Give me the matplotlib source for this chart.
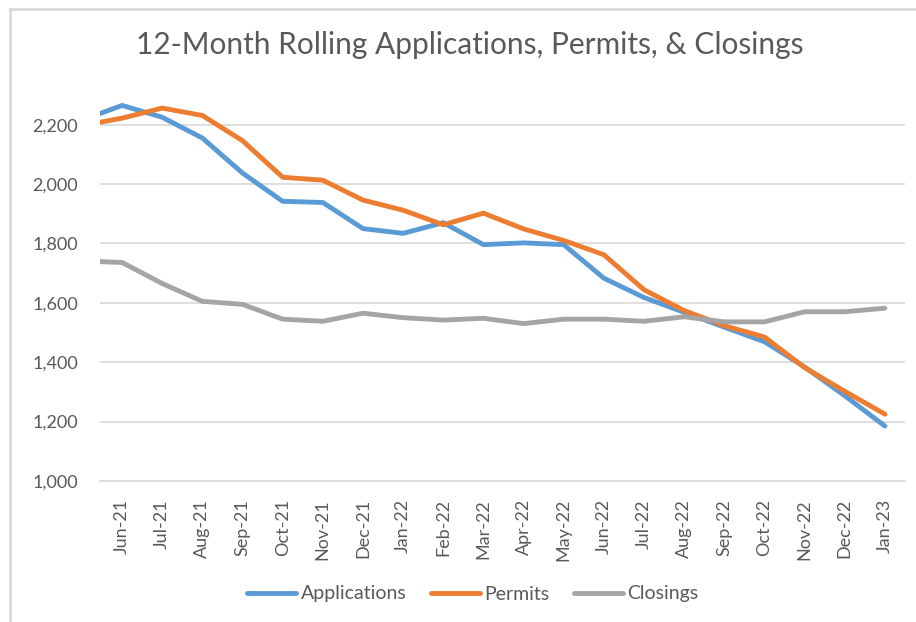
import numpy as np
import matplotlib.pyplot as plt
from matplotlib.lines import Line2D
from matplotlib.ticker import FuncFormatter

months = ["May-21", "Jun-21", "Jul-21", "Aug-21", "Sep-21", "Oct-21", "Nov-21", "Dec-21",
          "Jan-22", "Feb-22", "Mar-22", "Apr-22", "May-22", "Jun-22", "Jul-22",
          "Aug-22", "Sep-22", "Oct-22", "Nov-22", "Dec-22", "Jan-23"]
applications = [2215, 2265, 2225, 2155, 2037, 1942, 1938, 1850, 1834, 1870, 1796, 1802,
                1796, 1683, 1618, 1568, 1518, 1469, 1384, 1287, 1185]
permits = [2197, 2222, 2256, 2231, 2146, 2023, 2013, 1946, 1912, 1863, 1902, 1849,
           1810, 1762, 1644, 1574, 1523, 1485, 1382, 1302, 1225]
closings = [1741, 1736, 1665, 1605, 1595, 1545, 1538, 1565, 1550, 1542, 1548, 1530,
            1545, 1545, 1538, 1553, 1536, 1536, 1570, 1570, 1582]

blue = "#5b9bd5"
orange = "#ed7d31"
gray = "#a5a5a5"
text_col = "#595959"

plt.rcParams['font.family'] = ['Lato', 'DejaVu Sans']

fig = plt.figure(figsize=(9.16, 6.22), dpi=100)
ax = fig.add_axes([100/916, 1 - 481/622, 805/916, (481-95)/622])

x = np.arange(len(months)) - 1
ax.plot(x, applications, color=blue, lw=3.5, solid_capstyle='round', label="Applications")
ax.plot(x, permits, color=orange, lw=3.5, solid_capstyle='round', label="Permits")
ax.plot(x, closings, color=gray, lw=3.5, solid_capstyle='round', label="Closings")

ax.set_xlim(-0.55, 19.5)
ax.set_ylim(1000, 2300)
ax.set_yticks(np.arange(1000, 2201, 200))
ax.yaxis.set_major_formatter(FuncFormatter(lambda v, p: f"{int(v):,}"))
ax.set_xticks(x[1:])
ax.set_xticklabels(months[1:], rotation=90)
ax.grid(axis='y', color='#d9d9d9', lw=1.2)
ax.set_axisbelow(True)
for s in ["top", "right", "left"]:
    ax.spines[s].set_visible(False)
ax.spines["bottom"].set_color('#d9d9d9')
ax.spines["bottom"].set_linewidth(1.2)
ax.tick_params(length=0, colors=text_col, labelsize=13)
ax.tick_params(axis='y', pad=16)
ax.tick_params(axis='x', pad=13)

fig.text(470/916, 1 - 45/622, "12-Month Rolling Applications, Permits, & Closings",
         ha='center', va='center', fontsize=21.5, color=text_col)

handles = [Line2D([], [], color=c, lw=3.5, solid_capstyle='round') for c in (blue, orange, gray)]
fig.legend(handles, ["Applications", "Permits", "Closings"], loc='center',
           bbox_to_anchor=(473/916, 1 - 594/622), ncol=3, frameon=False,
           fontsize=14, labelcolor=text_col, handlelength=2.5, handletextpad=0.25,
           columnspacing=1.25)

# chart frame (top and left edges visible)
fig.add_artist(Line2D([10/916, 1], [1 - 9/622, 1 - 9/622], color='#d9d9d9', lw=2))
fig.add_artist(Line2D([10/916, 10/916], [0, 1 - 9/622], color='#d9d9d9', lw=2))

fig.savefig("out.png", dpi=100, facecolor='white')
